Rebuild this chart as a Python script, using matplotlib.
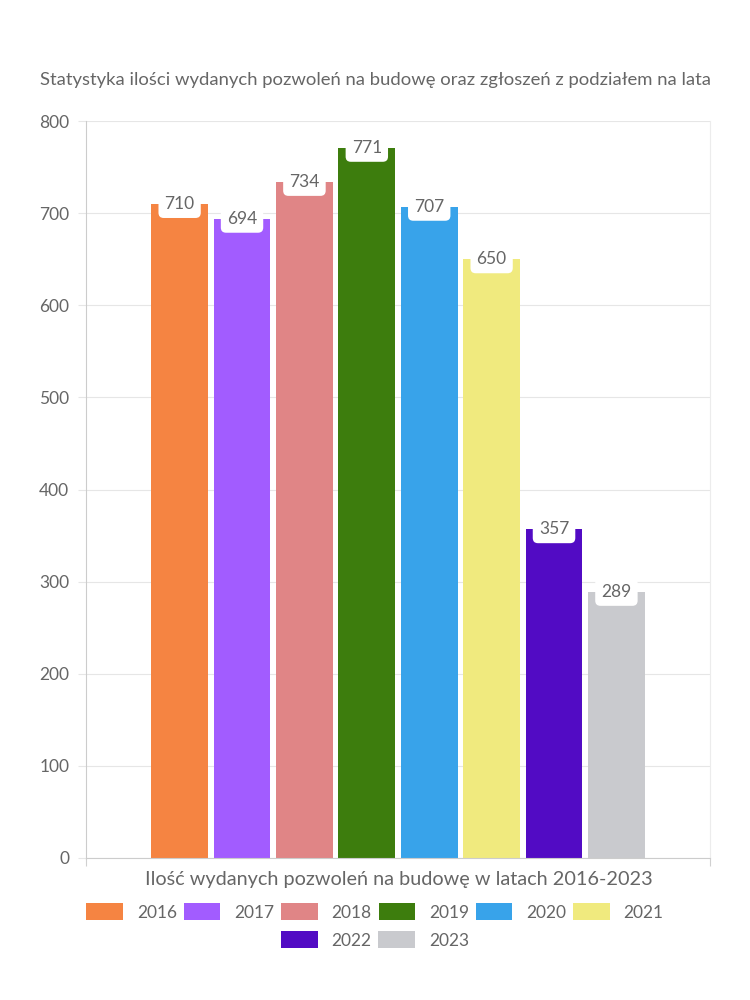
import matplotlib
matplotlib.use("Agg")
from matplotlib import pyplot as plt
from matplotlib.patches import Patch

plt.rcParams['font.family'] = ['Lato', 'DejaVu Sans']

# Data
years = ["2016", "2017", "2018", "2019", "2020", "2021", "2022", "2023"]
values = [710, 694, 734, 771, 707, 650, 357, 289]
colors = ["#F58442", "#A25CFF", "#E08586", "#3D7D0D",
          "#38A3EA", "#F0EA7E", "#520BC4", "#C9CACE"]
yticks = [0, 100, 200, 300, 400, 500, 600, 700, 800]

title = "Statystyka ilości wydanych pozwoleń na budowę oraz zgłoszeń z podziałem na lata"
xlabel = "Ilość wydanych pozwoleń na budowę w latach 2016-2023"

text_color = "#666666"

fig = plt.figure(figsize=(7.5, 10), dpi=100)
ax = fig.add_axes([0.1147, 0.142, 0.832, 0.737])

positions = list(range(len(years)))
bars = ax.bar(positions, values, width=0.91, color=colors, zorder=2)

# Value labels in white rounded boxes, centred on bar top
for x, v in zip(positions, values):
    ax.annotate(str(v), (x, v), ha="center", va="center", fontsize=12.5,
                color=text_color, zorder=3,
                bbox=dict(boxstyle="round,pad=0.35,rounding_size=0.3",
                          fc="white", ec="none"))

ax.set_xlim(-1.5, 8.5)
ax.set_ylim(0, 800)
ax.set_yticks(yticks)
ax.set_xticks([-1.5, 8.5])
ax.set_xticklabels([])
ax.tick_params(axis="x", length=6, color="#d0d0d0")
ax.tick_params(axis="y", length=6, color="#e6e6e6", labelsize=12.5,
               labelcolor=text_color, pad=6)
ax.grid(axis="y", color="#e6e6e6", linewidth=0.8, zorder=0)

ax.spines["top"].set_visible(False)
ax.spines["right"].set_color("#ececec")
ax.spines["left"].set_color("#cccccc")
ax.spines["bottom"].set_color("#cccccc")
for s in ax.spines.values():
    s.set_linewidth(0.8)

fig.text(0.053, 0.92, title, fontsize=13.3, color=text_color, ha="left", va="center")
fig.text(0.532, 0.12, xlabel, fontsize=14.3, color=text_color, ha="center", va="center")

# Legend: first row 6 items, second row centred
handles = [Patch(facecolor=c, edgecolor="none") for c in colors]
leg1 = fig.legend(handles[:6], years[:6], loc="center", bbox_to_anchor=(0.5, 0.088),
                  ncol=6, frameon=False, fontsize=12.5, labelcolor=text_color,
                  handlelength=2.1, handleheight=1.1, handletextpad=0.8,
                  columnspacing=0.4)
leg2 = fig.legend(handles[6:], years[6:], loc="center", bbox_to_anchor=(0.5, 0.06),
                  ncol=2, frameon=False, fontsize=12.5, labelcolor=text_color,
                  handlelength=2.1, handleheight=1.1, handletextpad=0.8,
                  columnspacing=0.4)

fig.savefig("out.png", dpi=100)
